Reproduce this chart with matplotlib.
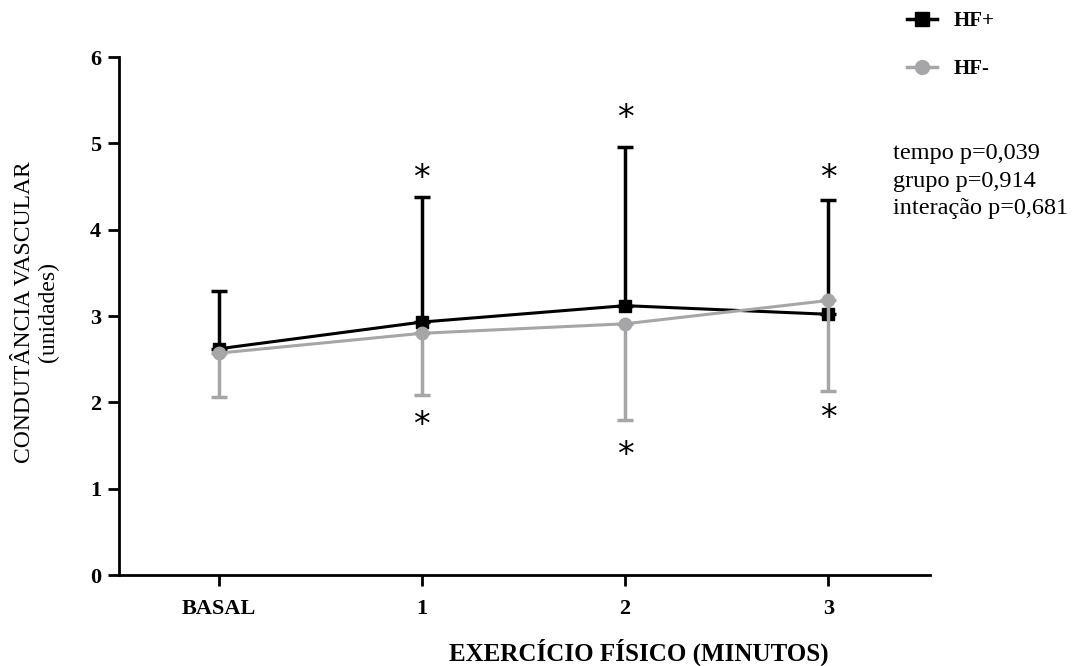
import matplotlib
matplotlib.use("Agg")
import matplotlib.pyplot as plt
from matplotlib.lines import Line2D
import numpy as np

categories = ["BASAL", "1", "2", "3"]
hf_pos = [2.62, 2.93, 3.12, 3.02]
hf_pos_err_up = [0.67, 1.45, 1.84, 1.32]
hf_neg = [2.57, 2.80, 2.91, 3.18]
hf_neg_err_down = [0.51, 0.71, 1.12, 1.05]
star_up = [None, 4.66, 5.35, 4.66]
star_down = [None, 1.80, 1.45, 1.88]
stats_text = ["tempo p=0,039", "grupo p=0,914", "interação p=0,681"]

plt.rcParams['font.family'] = ['Liberation Serif', 'DejaVu Serif']

fig = plt.figure(figsize=(10.78, 6.66), dpi=100)
ax = fig.add_axes([0.1104, 0.1366, 0.7523, 0.7778])

x = np.arange(len(categories))
black = "#000000"
grey = "#a6a6a8"

ax.errorbar(x, hf_pos, yerr=[np.zeros(4), hf_pos_err_up], color=black, lw=2.2,
            marker='s', ms=9, capsize=6, capthick=2.5, elinewidth=2.5, zorder=3)
ax.errorbar(x, hf_neg, yerr=[hf_neg_err_down, np.zeros(4)], color=grey, lw=2.2,
            marker='o', ms=9, capsize=6, capthick=2.5, elinewidth=2.5, zorder=4)

for xi, s in zip(x, star_up):
    if s is not None:
        ax.annotate("*", (xi, s), xytext=(0, -4), textcoords='offset points',
                    ha='center', va='center', fontsize=24, family='DejaVu Sans')
for xi, s in zip(x, star_down):
    if s is not None:
        ax.annotate("*", (xi, s), xytext=(0, -4), textcoords='offset points',
                    ha='center', va='center', fontsize=24, family='DejaVu Sans')

ax.set_xlim(-0.49, 3.5)
ax.set_ylim(0, 6)
ax.set_xticks(x)
ax.set_xticklabels(categories, fontweight='bold', fontsize=16)
ax.set_yticks(range(0, 7))
ax.set_yticklabels([str(i) for i in range(7)], fontweight='bold', fontsize=16)
ax.tick_params(axis='both', width=2, length=8, direction='out')
ax.tick_params(axis='y', pad=5)
ax.tick_params(axis='x', pad=9)
for sp in ['top', 'right']:
    ax.spines[sp].set_visible(False)
for sp in ['left', 'bottom']:
    ax.spines[sp].set_linewidth(2)

ax.set_ylabel("CONDUTÂNCIA VASCULAR\n(unidades)", fontsize=17, linespacing=1.2, va='center')
ax.yaxis.set_label_coords(-0.102, 0.508)
ax.set_xlabel("EXERCÍCIO FÍSICO (MINUTOS)", fontsize=18, fontweight='bold', va='center')
ax.xaxis.set_label_coords(0.641, -0.149)

handles = [
    Line2D([], [], color=black, lw=2.5, marker='s', ms=10),
    Line2D([], [], color=grey, lw=2.5, marker='o', ms=10),
]
ax.legend(handles, ["HF+", "HF-"], loc='upper left', bbox_to_anchor=(0.949, 1.125),
          frameon=False, prop={'weight': 'bold', 'size': 15}, labelspacing=1.35,
          handlelength=1.4, handletextpad=0.8)

fig.text(0.828, 0.785, "\n".join(stats_text), fontsize=17.5, va='top', ha='left',
         linespacing=1.4)

fig.savefig("out.png", dpi=100)
